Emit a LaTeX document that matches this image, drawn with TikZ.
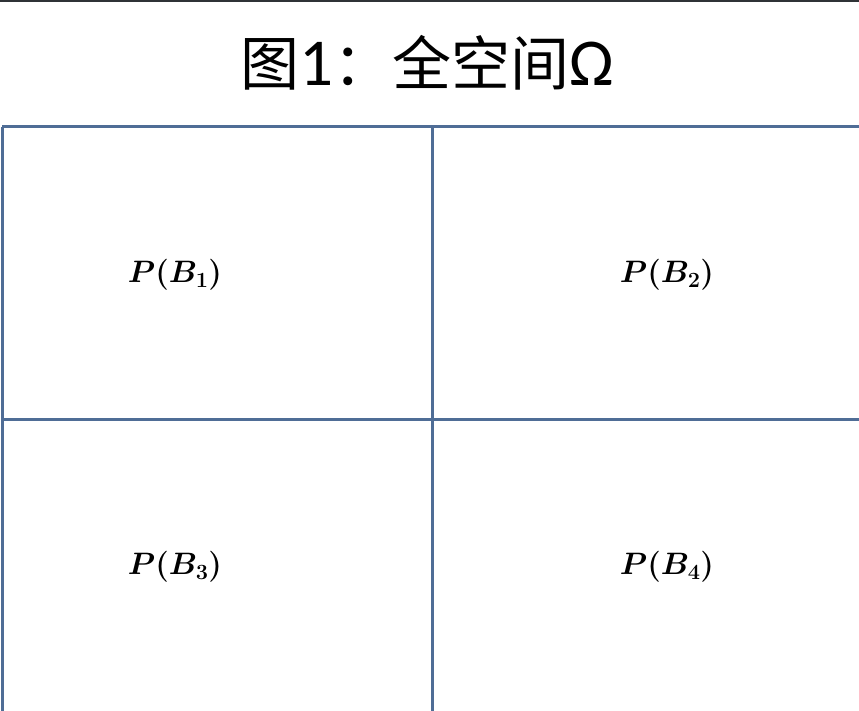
\documentclass[tikz,border=0pt]{standalone}
\usepackage{fix-cm}
\usepackage{amsmath}
\usepackage{bm}
\usepackage{fontspec}
\newfontfamily\cjk{Noto Sans CJK SC}
\newfontfamily\calib{Carlito}
\definecolor{gridblue}{HTML}{4F6D96}
\definecolor{topdark}{HTML}{2F3336}
\tikzset{
  gridline/.style={draw=gridblue, line width=3pt},
  plabel/.style={font=\fontsize{31}{36}\selectfont, inner sep=0pt},
}
\begin{document}
\begin{tikzpicture}[x=1pt,y=-1pt]
\useasboundingbox (0,0) rectangle (859,711);
\fill[white] (0,0) rectangle (859,711);
\draw[topdark, line width=2pt] (0,0.8) -- (859,0.8);
\node[inner sep=0pt, font=\fontsize{59}{64}\selectfont] (title) at (427,63)
  {{\cjk 图}{\calib\fontsize{67}{70}\selectfont 1}{\cjk ：全空间}{\calib\fontsize{67}{70}\selectfont Ω}};
\coordinate (tl) at (2,127);
\coordinate (tr) at (859,127);
\coordinate (bl) at (2,711);
\coordinate (tm) at (432,127);
\coordinate (bm) at (432,711);
\coordinate (ml) at (2,419);
\coordinate (mr) at (859,419);
\draw[gridline] (tl) -- (tr);
\draw[gridline] (tl) -- (bl);
\draw[gridline] (tm) -- (bm);
\draw[gridline] (ml) -- (mr);
\node[plabel] (b1) at (175,275) {$\bm{P(B_1)}$};
\node[plabel] (b2) at (667,275) {$\bm{P(B_2)}$};
\node[plabel] (b3) at (175,567) {$\bm{P(B_3)}$};
\node[plabel] (b4) at (667,567) {$\bm{P(B_4)}$};
\end{tikzpicture}
\end{document}
